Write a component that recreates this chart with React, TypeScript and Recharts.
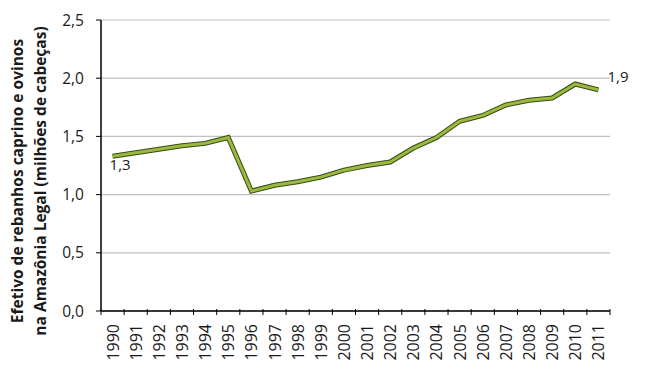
import React from 'react';
import { LineChart, Line, XAxis, YAxis, CartesianGrid, LabelList, Label } from 'recharts';

const years = ['1990','1991','1992','1993','1994','1995','1996','1997','1998','1999','2000','2001','2002','2003','2004','2005','2006','2007','2008','2009','2010','2011'];
const herd = [1.33,1.36,1.39,1.42,1.44,1.49,1.03,1.08,1.11,1.15,1.21,1.25,1.28,1.40,1.49,1.63,1.68,1.77,1.81,1.83,1.95,1.90];
const yTicks = [0, 0.5, 1, 1.5, 2, 2.5];
const yLabelLines = ['Efetivo de rebanhos caprino e ovinos', 'na Amazônia Legal (milhões de cabeças)'];

const data = years.map((y, i) => ({ year: y, value: herd[i] }));

const W = 650;
const H = 372;
const M = { top: 20, right: 40, left: 0, bottom: 0 };
const Y_W = 101;
const X_H = 61;
const FONT = '"Open Sans", sans-serif';
const plotW = W - M.left - M.right - Y_W;
const step = plotW / years.length;

const fmt = (v: number) => v.toFixed(1).replace('.', ',');

const XTick = (props: any) => {
  const { x, y, payload, index } = props;
  const left = x - step / 2;
  return (
    <g>
      <line x1={left} x2={left} y1={y - 8} y2={y - 2} stroke="#000" strokeWidth={1} />
      {index === years.length - 1 && (
        <line x1={x + step / 2} x2={x + step / 2} y1={y - 8} y2={y - 2} stroke="#000" strokeWidth={1} />
      )}
      <text
        x={x}
        y={y + 7}
        transform={`rotate(-90 ${x} ${y + 7})`}
        textAnchor="end"
        dominantBaseline="central"
        fontFamily={FONT}
        fontSize={16}
        fill="#1a1a1a"
      >
        {payload.value}
      </text>
    </g>
  );
};

const EndLabel = (props: any) => {
  const { x, y, value, index } = props;
  if (index === 0) {
    return (
      <text x={x - 3} y={y + 14} fontFamily={FONT} fontSize={15} fill="#1a1a1a" textAnchor="start">
        {fmt(value)}
      </text>
    );
  }
  if (index === years.length - 1) {
    return (
      <text x={x + 9} y={y - 8} fontFamily={FONT} fontSize={15} fill="#1a1a1a" textAnchor="start">
        {fmt(value)}
      </text>
    );
  }
  return null;
};

const YTitle = (props: any) => {
  const cy = 181;
  return (
    <g>
      {yLabelLines.map((t, i) => {
        const cx = 17 + i * 23;
        return (
          <text
            key={i}
            x={cx}
            y={cy}
            transform={`rotate(-90 ${cx} ${cy})`}
            textAnchor="middle"
            dominantBaseline="central"
            fontFamily={FONT}
            fontWeight="bold"
            fontSize={15.5}
            fill="#1a1a1a"
          >
            {t}
          </text>
        );
      })}
    </g>
  );
};

export default function App() {
  return (
    <div style={{ position: 'absolute', left: 0, top: 0, width: W, height: H, background: '#fff' }}>
      <LineChart width={W} height={H} data={data} margin={M}>
        <CartesianGrid vertical={false} stroke="#bfbfbf" strokeWidth={1.2} />
        <XAxis
          dataKey="year"
          scale="band"
          height={X_H}
          interval={0}
          axisLine={{ stroke: '#000', strokeWidth: 1.5 }}
          tickLine={false}
          tick={<XTick />}
          tickMargin={0}
        />
        <YAxis
          width={Y_W}
          domain={[0, 2.5]}
          ticks={yTicks}
          interval={0}
          tickFormatter={fmt}
          axisLine={{ stroke: '#000', strokeWidth: 1.5 }}
          tickLine={{ stroke: '#000' }}
          tickSize={5}
          tickMargin={12}
          tick={{ fontFamily: FONT, fontSize: 15.5, fill: '#1a1a1a' }}
        >
          <Label content={<YTitle />} />
        </YAxis>
        <Line
          type="linear"
          dataKey="value"
          stroke="#3b4a17"
          strokeWidth={5}
          dot={false}
          activeDot={false}
          isAnimationActive={false}
          strokeLinejoin="miter"
        />
        <Line
          type="linear"
          dataKey="value"
          stroke="#9aba3f"
          strokeWidth={3}
          dot={false}
          activeDot={false}
          isAnimationActive={false}
          strokeLinejoin="miter"
        >
          <LabelList dataKey="value" content={<EndLabel />} />
        </Line>
      </LineChart>
    </div>
  );
}
